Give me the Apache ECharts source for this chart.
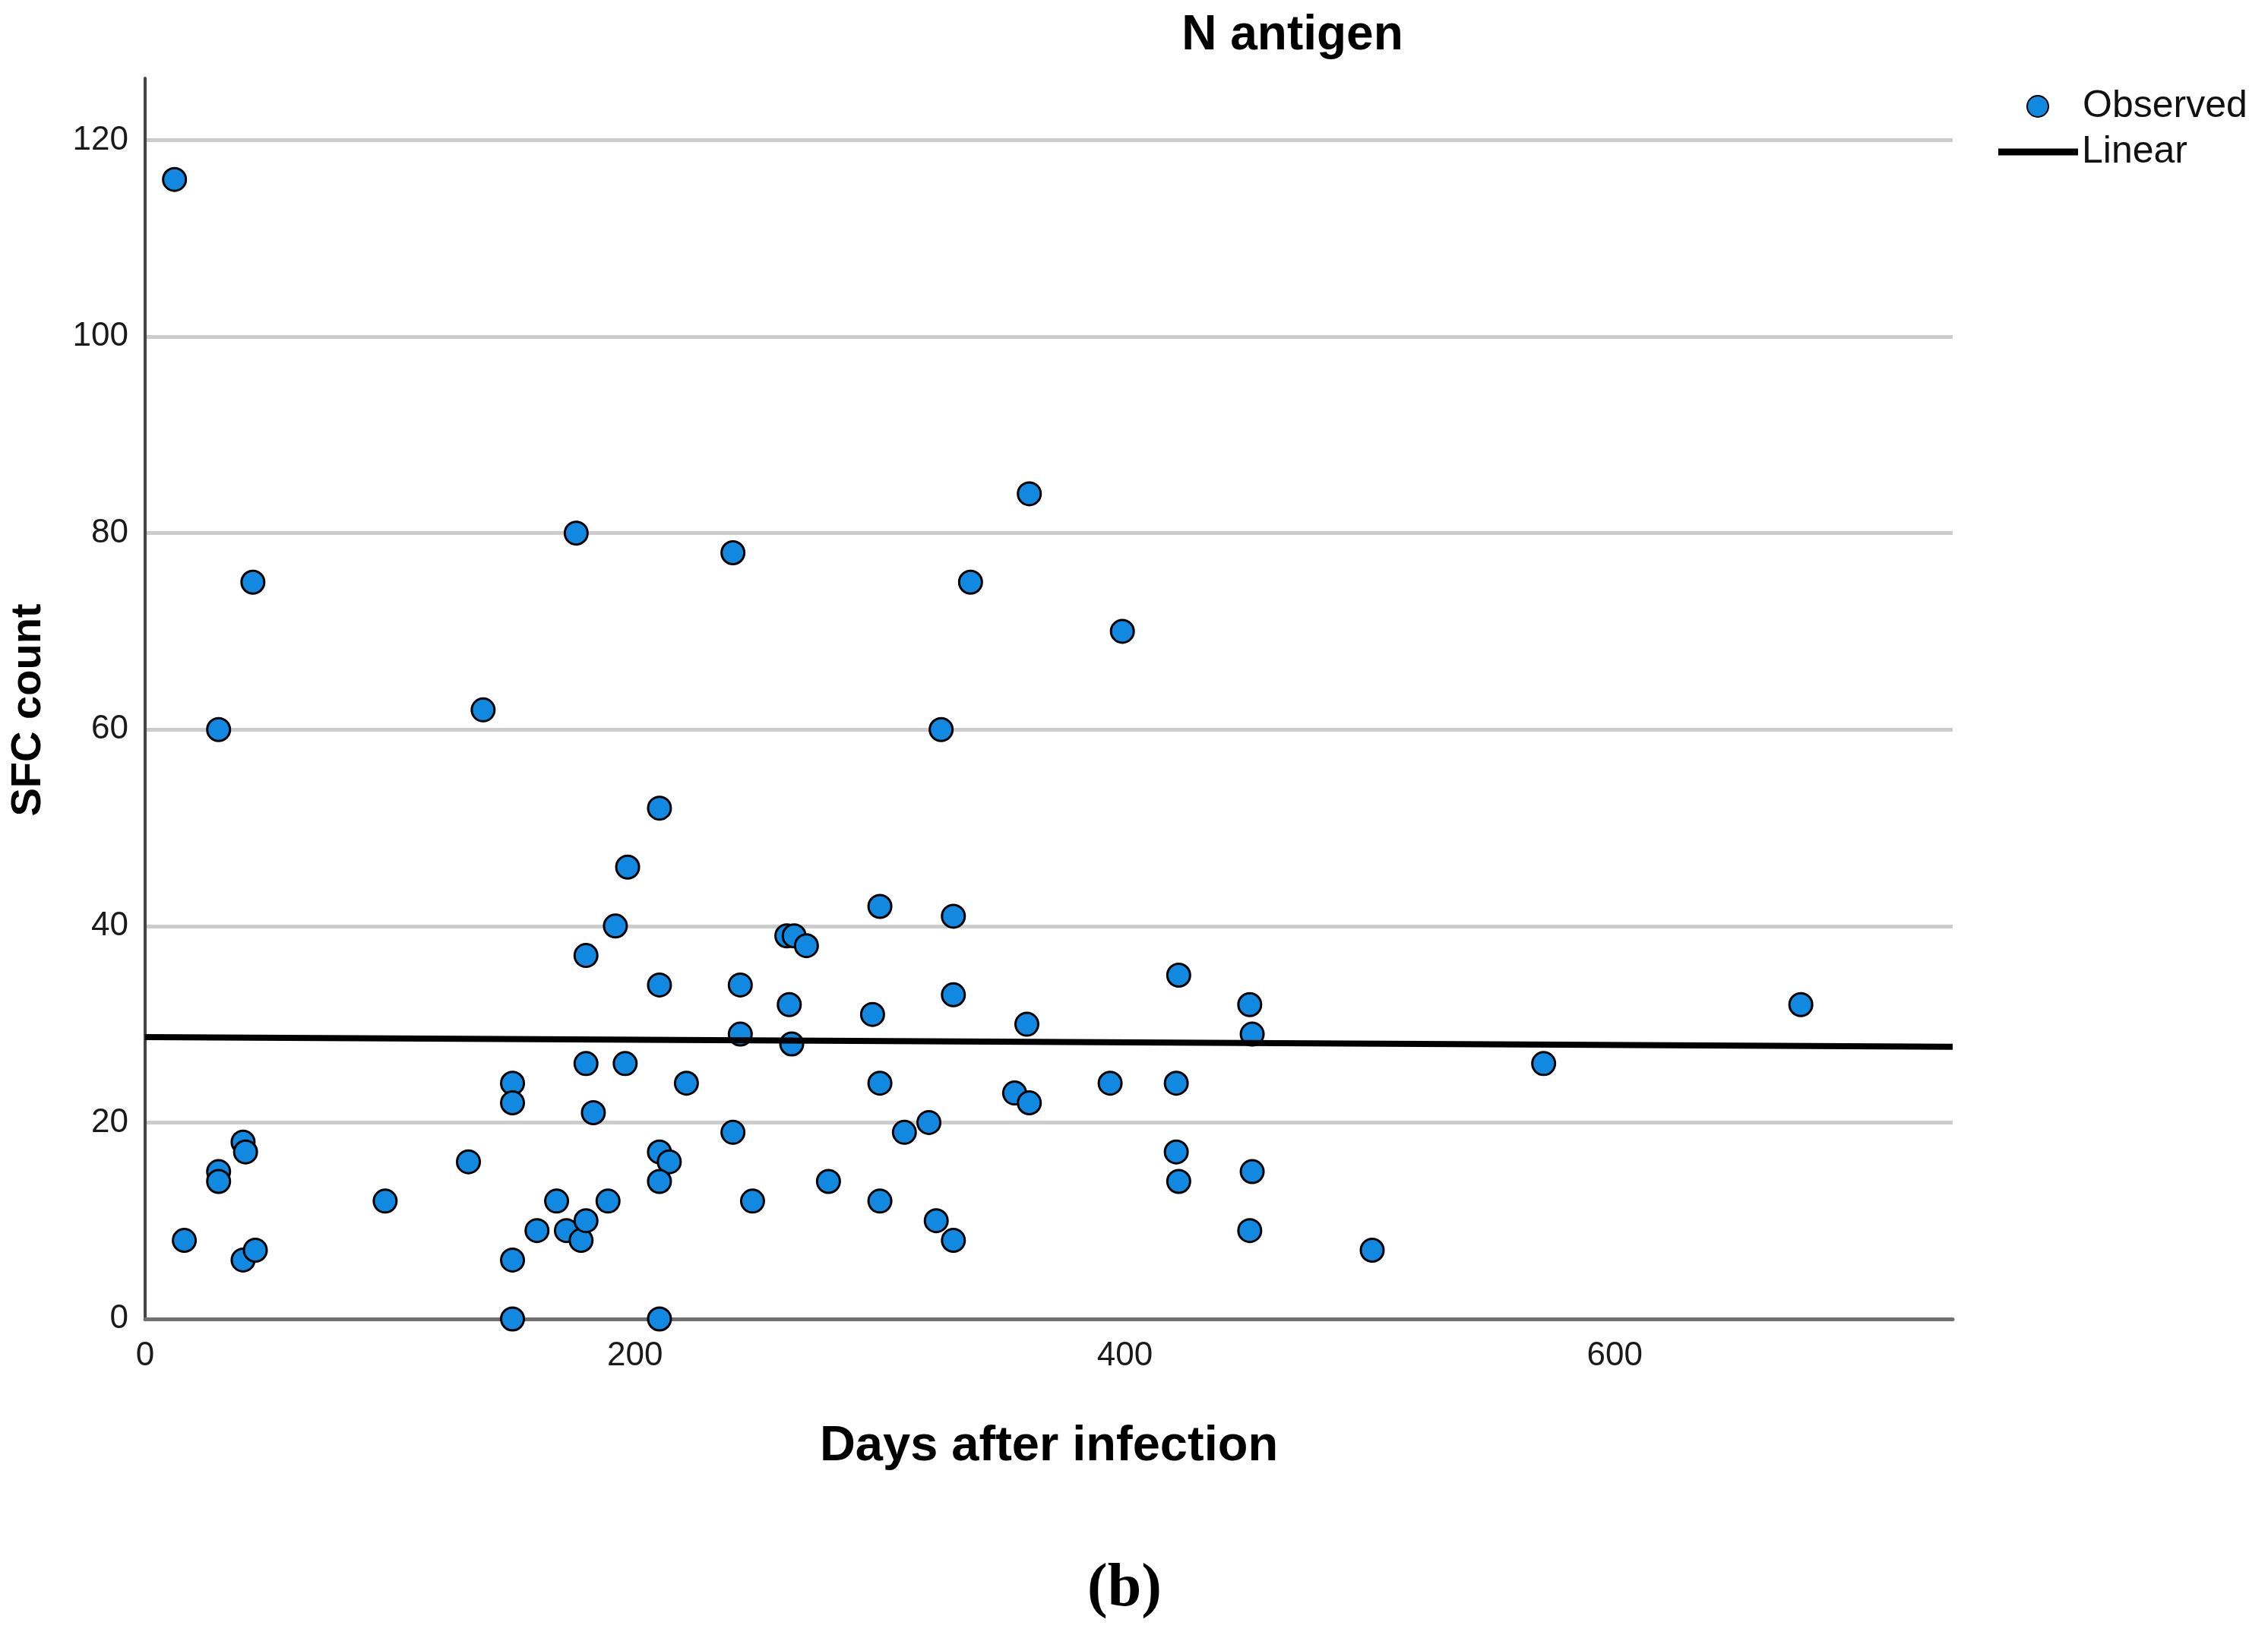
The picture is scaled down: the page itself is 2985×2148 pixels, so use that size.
<!DOCTYPE html>
<html>
<head>
<meta charset="utf-8">
<script src="https://cdn.jsdelivr.net/npm/echarts@6/dist/echarts.min.js"></script>
<style>
html,body{margin:0;padding:0;background:#fff;}
#chart{width:2985px;height:2148px;}
</style>
</head>
<body>
<div id="chart"></div>
<script>
// Observed points: days after infection and SFC count
const days = [12,16,30,44,30,30,40,41,40,45,98,132,138,150,150,150,150,160,168,172,176,178,180,180,180,183,189,192,196,197,210,210,210,214,210,210,221,240,240,243,243,248,262,265,270,263,264,279,297,300,300,300,310,320,323,325,330,330,330,337,355,361,360,361,394,399,421,422,421,422,451,452,452,451,501,571,676];
const sfc  = [116,8,60,75,15,14,18,17,6,7,12,16,62,24,22,6,0,9,12,9,80,8,10,26,37,21,12,40,26,46,52,34,17,16,14,0,24,78,19,34,29,12,39,39,38,32,28,14,31,42,24,12,19,20,10,60,41,33,8,75,23,22,30,84,24,70,24,35,17,14,32,29,15,9,7,26,32];
// Linear fit line endpoints
const fitDays = [0, 738];
const fitValues = [28.7, 27.7];
// Axis ticks
const xTicks = [0, 200, 400, 600];
const yTicks = [0, 20, 40, 60, 80, 100, 120];
const seriesNames = ['Observed', 'Linear'];

const observed = days.map((d, i) => [d, sfc[i]]);
const fit = fitDays.map((d, i) => [d, fitValues[i]]);

const legendFont = {fontFamily: 'Liberation Sans, Arial, sans-serif', fontSize: 50, color: '#111', lineHeight: 58};

const chart = echarts.init(document.getElementById('chart'), null, {renderer: 'canvas'});
chart.setOption({
  animation: false,
  backgroundColor: '#ffffff',
  grid: {left: 191, right: 415, top: 103, bottom: 412, containLabel: false},
  graphic: [
    {type: 'text', x: 1701, y: 47, style: {text: 'N antigen', textAlign: 'center', textVerticalAlign: 'middle', fontFamily: 'Liberation Sans, Arial, sans-serif', fontWeight: 'bold', fontSize: 64, fill: '#000'}},
    {type: 'text', x: 1480, y: 2092, style: {text: '(b)', textAlign: 'center', textVerticalAlign: 'middle', fontFamily: 'Liberation Serif, Times New Roman, serif', fontWeight: 'bold', fontSize: 80, fill: '#000'}}
  ],
  legend: [
    {
      orient: 'vertical',
      left: 2667,
      top: 111,
      padding: 0,
      itemWidth: 108,
      itemHeight: 28,
      data: [seriesNames[0]],
      textStyle: legendFont
    },
    {
      orient: 'vertical',
      left: 2630,
      top: 161,
      padding: 0,
      itemWidth: 105,
      itemHeight: 9,
      data: [{name: seriesNames[1], icon: 'rect', itemStyle: {color: '#000', borderWidth: 0}}],
      textStyle: Object.assign({}, legendFont, {padding: [20, 0, 0, 0]})
    }
  ],
  xAxis: {
    type: 'value',
    min: 0,
    max: 738,
    interval: 200,
    name: 'Days after infection',
    nameLocation: 'middle',
    nameGap: 136,
    nameTextStyle: {fontFamily: 'Liberation Sans, Arial, sans-serif', fontWeight: 'bold', fontSize: 65, color: '#000'},
    axisLine: {show: true, lineStyle: {color: '#707070', width: 5}},
    axisTick: {show: false},
    splitLine: {show: false},
    axisLabel: {
      margin: 27, fontFamily: 'Liberation Sans, Arial, sans-serif', fontSize: 44, color: '#1a1a1a',
      showMaxLabel: false,
      formatter: v => (xTicks.indexOf(v) >= 0 ? String(v) : '')
    }
  },
  yAxis: {
    type: 'value',
    min: 0,
    max: 126.3,
    interval: 20,
    name: 'SFC count',
    nameLocation: 'middle',
    nameRotate: 90,
    nameGap: 125,
    nameTextStyle: {fontFamily: 'Liberation Sans, Arial, sans-serif', fontWeight: 'bold', fontSize: 56, color: '#000', padding: [0, 30, 0, 0]},
    axisLine: {show: true, lineStyle: {color: '#444444', width: 4}},
    axisTick: {show: false},
    splitLine: {show: true, showMinLine: false, showMaxLine: false, lineStyle: {color: '#cccccc', width: 5}},
    axisLabel: {
      margin: 22, fontFamily: 'Liberation Sans, Arial, sans-serif', fontSize: 44, color: '#1a1a1a',
      showMaxLabel: false,
      formatter: v => (yTicks.indexOf(v) >= 0 ? String(v) : '')
    }
  },
  series: [
    {
      name: seriesNames[0],
      type: 'scatter',
      data: observed,
      symbol: 'circle',
      symbolSize: 30,
      itemStyle: {color: '#1189e0', borderColor: '#000000', borderWidth: 3, opacity: 1},
      z: 2
    },
    {
      name: seriesNames[1],
      type: 'line',
      data: fit,
      symbol: 'none',
      lineStyle: {color: '#000000', width: 8},
      itemStyle: {color: '#000000'},
      z: 3
    }
  ]
});
</script>
</body>
</html>
